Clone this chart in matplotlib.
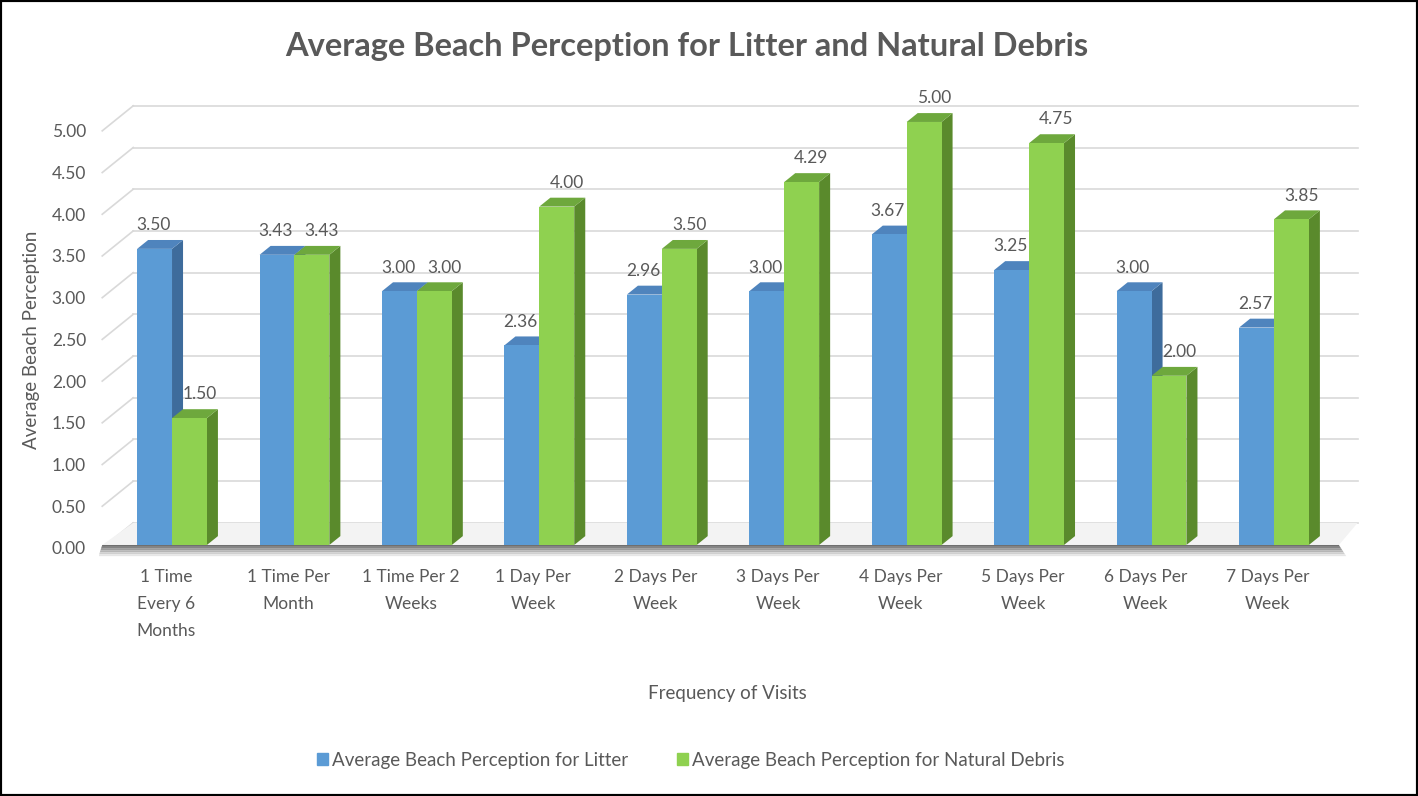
import numpy as np
import matplotlib.pyplot as plt
from matplotlib.patches import Rectangle, Patch

plt.rcParams['font.family'] = ['Lato', 'DejaVu Sans']

# data
categories = ['1 Time\nEvery 6\nMonths', '1 Time Per\nMonth', '1 Time Per 2\nWeeks',
              '1 Day Per\nWeek', '2 Days Per\nWeek', '3 Days Per\nWeek',
              '4 Days Per\nWeek', '5 Days Per\nWeek', '6 Days Per\nWeek',
              '7 Days Per\nWeek']
litter = [3.50, 3.43, 3.00, 2.36, 2.96, 3.00, 3.67, 3.25, 3.00, 2.57]
natural = [1.50, 3.43, 3.00, 4.00, 3.50, 4.29, 5.00, 4.75, 2.00, 3.85]
yticks = np.arange(0, 5.01, 0.5)
series_names = ['Average Beach Perception for Litter',
                'Average Beach Perception for Natural Debris']

txt = '#595959'
grid_c = '#d9d9d9'

fig = plt.figure(figsize=(14.18, 7.96), dpi=100)
ax = fig.add_axes([0.0695, 0.2994, 0.8937, 0.5952])

x = np.arange(len(categories))
w = 0.285       # bar width
dx, dy = 0.09, 0.105     # bar depth
gx, gy = 0.253, 0.296    # wall depth
x_left = -0.57
x_right = 9.53

ax.set_xlim(-0.6, 9.75)
ax.set_ylim(-0.15, 5.45)

# the wall sits a little behind the bars, so its scale is slightly flatter
wall_y = yticks * 0.986 - 0.035

# back wall gridlines + left wall diagonals
for t in wall_y:
    ax.plot([x_left + gx, x_right + gx - 0.1], [t + gy, t + gy], color=grid_c, lw=1.2, zorder=0)
    ax.plot([x_left, x_left + gx], [t, t + gy], color=grid_c, lw=1.2, zorder=0)

# floor: pale top and a shadowed front edge
ax.fill([x_left, x_right, x_right + gx - 0.1, x_left + gx], [0, 0, gy - 0.035, gy - 0.035],
        color='#f3f3f3', zorder=0.5, linewidth=0)
shade = ['#6f6f6f', '#858585', '#9c9c9c', '#b5b5b5', '#cfcfcf', '#e6e6e6']
band = 0.022
for i, c in enumerate(shade):
    y0, y1 = -i * band, -(i + 1) * band
    ax.fill([x_left - 0.005 * i, x_right + 0.01 * i, x_right + 0.01 * (i + 1), x_left - 0.005 * (i + 1)],
            [y0, y0, y1, y1], color=c, zorder=0.6, linewidth=0)


def draw_series(x0, vals, front, side, top, lab_shift):
    ax.bar(x0, vals, width=w, align='edge', color=front, zorder=3, linewidth=0)
    for xi, v in zip(x0, vals):
        ax.fill([xi + w, xi + w + dx, xi + w + dx, xi + w], [0, dy, v + dy, v],
                color=side, zorder=2, linewidth=0)
        ax.fill([xi, xi + w, xi + w + dx, xi + dx], [v, v, v + dy, v + dy],
                color=top, zorder=2, linewidth=0)
        ax.text(xi + w / 2 + lab_shift, v + dy + 0.08, f'{v:.2f}', ha='center', va='bottom',
                fontsize=12.5, color=txt, zorder=5)


draw_series(x - w, litter, '#5b9bd5', '#3e6c9c', '#4f84bd', -0.01)
draw_series(x, natural, '#8fd150', '#5a8a2c', '#6ea83d', 0.08)

ax.set_yticks(wall_y)
ax.set_yticklabels([f'{t:.2f}' for t in yticks])
ax.set_xticks(x - 0.05)
ax.set_xticklabels(categories, linespacing=1.85)
ax.tick_params(axis='both', length=0, labelsize=12.5, labelcolor=txt)
ax.tick_params(axis='x', pad=8)
ax.tick_params(axis='y', pad=9)
for s in ax.spines.values():
    s.set_visible(False)

fig.text(0.484, 0.941, 'Average Beach Perception for Litter and Natural Debris',
         ha='center', va='center', fontsize=23.5, fontweight='bold', color=txt)
fig.text(0.022, 0.573, 'Average Beach Perception', rotation=90, ha='center',
         va='center', fontsize=13.5, color=txt)
fig.text(0.513, 0.129, 'Frequency of Visits', ha='center', va='center',
         fontsize=13.5, color=txt)

handles = [Patch(color='#5b9bd5'), Patch(color='#8fd150')]
fig.legend(handles, series_names, loc='center', bbox_to_anchor=(0.487, 0.045), ncol=2,
           frameon=False, handlelength=0.6, handleheight=0.6, handletextpad=0.2,
           columnspacing=2.6, labelcolor=txt, prop={'size': 13.5})

fig.patches.append(Rectangle((0, 0), 1, 1, transform=fig.transFigure, fill=False,
                             edgecolor='black', linewidth=3))

fig.savefig('out.png', dpi=100)
